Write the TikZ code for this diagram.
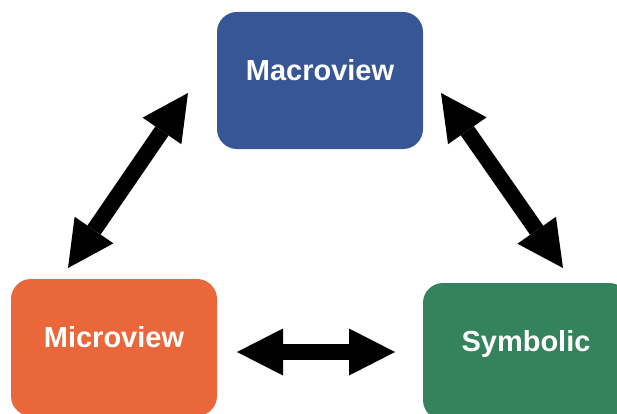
\documentclass[tikz,border=0pt]{standalone}
\usepackage{fontspec}
\setmainfont{Liberation Sans}
\usetikzlibrary{arrows.meta}
\definecolor{macroblue}{RGB}{55,86,150}
\definecolor{microorange}{RGB}{233,103,58}
\definecolor{symbgreen}{RGB}{53,131,93}
\tikzset{
  viewbox/.style={rectangle, rounded corners=20pt, minimum width=206pt,
    minimum height=137pt, inner sep=0pt, text=white,
    font=\fontsize{29}{34}\selectfont\bfseries,
    text height=10pt, text depth=10pt},
  blockarrow/.style={line width=16pt,
    {Triangle[width=47pt,length=46pt,line width=0pt]}-{Triangle[width=47pt,length=46pt,line width=0pt]}}
}
\begin{document}
\begin{tikzpicture}[x=1pt,y=-1pt]
  \useasboundingbox (0,0) rectangle (617,414);
  \clip (0,0) rectangle (617,414);

  % the three views
  \node[viewbox, fill=macroblue]   (macro) at (320,80.5)  {Macroview};
  \node[viewbox, fill=microorange] (micro) at (114,347.5) {Microview};
  \node[viewbox, fill=symbgreen]   (symb)  at (526,351.5) {Symbolic};

  % ends of the double-headed arrows
  \coordinate (mi-up)   at (68,268);
  \coordinate (ma-left) at (188,93);
  \coordinate (ma-right) at (441,93);
  \coordinate (sy-up)   at (563,268);
  \coordinate (mi-right) at (237,352);
  \coordinate (sy-left) at (395,352);

  \draw[blockarrow] (mi-up) -- (ma-left);
  \draw[blockarrow] (ma-right) -- (sy-up);
  \draw[blockarrow] (mi-right) -- (sy-left);
\end{tikzpicture}
\end{document}
